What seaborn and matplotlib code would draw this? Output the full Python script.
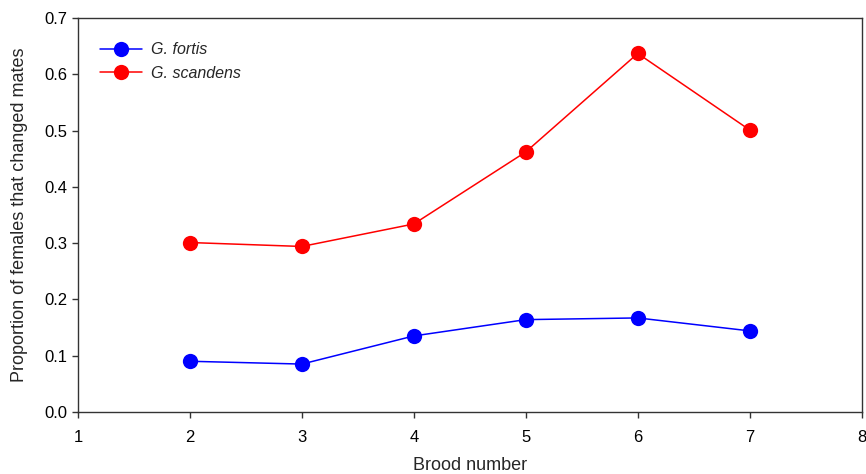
import matplotlib
matplotlib.use("Agg")
import matplotlib.pyplot as plt
import seaborn as sns
import pandas as pd

# Dados
brood = [2, 3, 4, 5, 6, 7]
fortis = [0.090, 0.085, 0.135, 0.164, 0.167, 0.144]
scandens = [0.301, 0.294, 0.334, 0.462, 0.637, 0.501]
especies = ["G. fortis", "G. scandens"]
cores = {"G. fortis": "#0000ff", "G. scandens": "#ff0000"}

df = pd.DataFrame({
    "brood": brood * 2,
    "prop": fortis + scandens,
    "especie": [especies[0]] * len(brood) + [especies[1]] * len(brood),
})

sns.set_style("ticks")
plt.rcParams["font.family"] = ["Liberation Sans", "DejaVu Sans"]

fig = plt.figure(figsize=(8.66, 4.74), dpi=100)
ax = fig.add_axes([0.090, 0.131, 0.905, 0.831])

sns.lineplot(data=df, x="brood", y="prop", hue="especie", palette=cores,
             marker="o", markersize=11, markeredgewidth=0, linewidth=1.1, ax=ax)

ax.set_xlim(1, 8)
ax.set_ylim(0, 0.7)
ax.set_xticks(range(1, 9))
ax.set_yticks([0.0, 0.1, 0.2, 0.3, 0.4, 0.5, 0.6, 0.7])
ax.set_yticklabels([f"{v:.1f}" for v in ax.get_yticks()])
ax.tick_params(axis="both", labelsize=12, direction="out", length=4, width=1, colors="#333333")
ax.tick_params(axis="both", labelcolor="black")
ax.tick_params(axis="x", pad=9)
for s in ax.spines.values():
    s.set_color("#333333")
    s.set_linewidth(1)

ax.set_xlabel("Brood number", fontsize=13, labelpad=9)
ax.set_ylabel("Proportion of females that changed mates", fontsize=13, labelpad=12)

leg = ax.legend(loc="upper left", bbox_to_anchor=(0.01, 0.975), frameon=False,
                fontsize=11.5, handlelength=2.6, labelspacing=0.55, handletextpad=0.6)
for t in leg.get_texts():
    t.set_style("italic")

fig.savefig("out.png", dpi=100)
